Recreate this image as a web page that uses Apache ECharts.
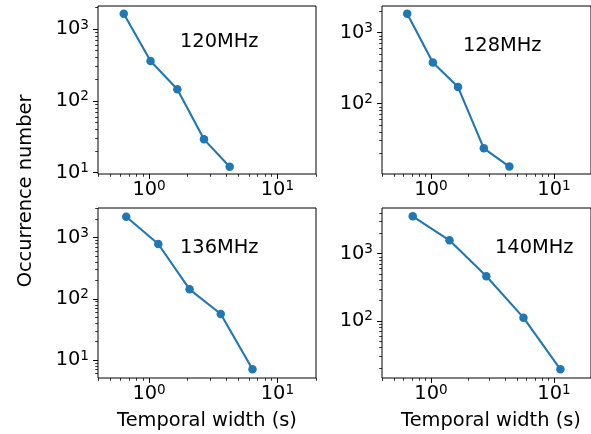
<!DOCTYPE html>
<html>
<head>
<meta charset="utf-8">
<script src="https://cdn.jsdelivr.net/npm/echarts@6/dist/echarts.min.js"></script>
<style>
html,body{margin:0;padding:0;background:#fff;}
#chart{width:591px;height:434px;}
</style>
</head>
<body>
<div id="chart"></div>
<script>
// ---- data ----
var panelTitles = ['120MHz', '128MHz', '136MHz', '140MHz'];
var x120 = [0.635, 1.027, 1.66, 2.68, 4.25];
var y120 = [1634, 358, 145, 29.1, 12.1];
var x128 = [0.641, 1.036, 1.66, 2.69, 4.34];
var y128 = [1857, 381, 171, 23.4, 12.9];
var x136 = [0.664, 1.18, 2.07, 3.62, 6.40];
var y136 = [2204, 789, 143, 56.5, 7.05];
var x140 = [0.711, 1.415, 2.82, 5.65, 11.28];
var y140 = [3594, 1581, 461, 112, 19.1];
var xLimits = [0.4, 20];
var yLimits120 = [9.59, 2089];
var yLimits128 = [10.15, 2380];
var yLimits136 = [5.08, 3062];
var yLimits140 = [14.2, 4775];
var xMajorTicks = [1, 10];
var yMajorTicks = [10, 100, 1000];
var minorTicks = [0.2,0.3,0.4,0.5,0.6,0.7,0.8,0.9,2,3,4,5,6,7,8,9,20,30,40,50,60,70,80,90,200,300,400,500,600,700,800,900,2000,3000,4000,5000,6000,7000,8000,9000];
var xTitle = 'Temporal width (s)';
var yTitle = 'Occurrence number';

var xs = [x120, x128, x136, x140];
var ys = [y120, y128, y136, y140];
var yLims = [yLimits120, yLimits128, yLimits136, yLimits140];

var FONT = 'DejaVu Sans';
var grids = [
  {left: 98, top: 6, width: 218, height: 168},
  {left: 382, top: 6, width: 218, height: 168},
  {left: 98, top: 208, width: 218, height: 170},
  {left: 382, top: 208, width: 218, height: 170}
];

function within(vals, lim) {
  return vals.filter(function (v) { return v >= lim[0] && v <= lim[1]; });
}
function powLabel(v) {
  var e = Math.round(Math.log10(v));
  return '{b|10}{s|' + e + '}';
}
var rich = {
  b: {fontFamily: FONT, fontSize: 19.4, color: '#000', lineHeight: 22},
  s: {fontFamily: FONT, fontSize: 13.6, color: '#000', lineHeight: 10, verticalAlign: 'top'}
};

var xAxes = [], yAxes = [], series = [], graphics = [];
for (var i = 0; i < 4; i++) {
  var g = grids[i];
  g.show = true; g.borderColor = '#000'; g.borderWidth = 1; g.backgroundColor = '#fff';
  // major x
  xAxes.push({
    type: 'log', logBase: 10, gridIndex: i, min: xLimits[0], max: xLimits[1],
    axisLine: {show: false}, splitLine: {show: false},
    axisTick: {show: true, length: 4.9, customValues: xMajorTicks, lineStyle: {color: '#000', width: 1}},
    axisLabel: {show: true, customValues: xMajorTicks, margin: 5, formatter: powLabel, rich: rich}
  });
  // minor x
  xAxes.push({
    type: 'log', logBase: 10, gridIndex: i, min: xLimits[0], max: xLimits[1], position: 'bottom',
    axisLine: {show: false}, splitLine: {show: false}, axisLabel: {show: false},
    axisTick: {show: true, length: 2.8, customValues: within(minorTicks, xLimits), lineStyle: {color: '#000', width: 0.8}}
  });
  var yl = yLims[i];
  yAxes.push({
    type: 'log', logBase: 10, gridIndex: i, min: yl[0], max: yl[1],
    axisLine: {show: false}, splitLine: {show: false},
    axisTick: {show: true, length: 4.9, customValues: within(yMajorTicks, yl), lineStyle: {color: '#000', width: 1}},
    axisLabel: {show: true, customValues: within(yMajorTicks, yl), margin: 9, formatter: powLabel, rich: rich}
  });
  yAxes.push({
    type: 'log', logBase: 10, gridIndex: i, min: yl[0], max: yl[1], position: 'left',
    axisLine: {show: false}, splitLine: {show: false}, axisLabel: {show: false},
    axisTick: {show: true, length: 2.8, customValues: within(minorTicks, yl), lineStyle: {color: '#000', width: 0.8}}
  });
  var pts = xs[i].map(function (x, k) { return [x, ys[i][k]]; });
  series.push({
    type: 'line', xAxisIndex: 2 * i, yAxisIndex: 2 * i, data: pts,
    symbol: 'circle', symbolSize: 8.5, showSymbol: true,
    lineStyle: {color: '#1f77b4', width: 2.1},
    itemStyle: {color: '#1f77b4'},
    animation: false, silent: true
  });
}

var titlePos = [[180, 41.5], [463, 45.5], [180, 248], [495, 247.5]];
for (var j = 0; j < 4; j++) {
  graphics.push({type: 'text', x: titlePos[j][0], y: titlePos[j][1],
    style: {text: panelTitles[j], font: '19.4px "DejaVu Sans"', fill: '#000', align: 'left', verticalAlign: 'middle'}});
}
graphics.push({type: 'text', x: 207, y: 421, style: {text: xTitle, font: '19.4px "DejaVu Sans"', fill: '#000', align: 'center', verticalAlign: 'middle'}});
graphics.push({type: 'text', x: 491, y: 421, style: {text: xTitle, font: '19.4px "DejaVu Sans"', fill: '#000', align: 'center', verticalAlign: 'middle'}});
graphics.push({type: 'text', x: 26, y: 191, rotation: Math.PI / 2, style: {text: yTitle, font: '19.4px "DejaVu Sans"', fill: '#000', align: 'center', verticalAlign: 'middle'}});

var chart = echarts.init(document.getElementById('chart'), null, {renderer: 'canvas'});
chart.setOption({
  animation: false,
  backgroundColor: '#fff',
  grid: grids,
  xAxis: xAxes,
  yAxis: yAxes,
  series: series,
  graphic: graphics
});
</script>
</body>
</html>
